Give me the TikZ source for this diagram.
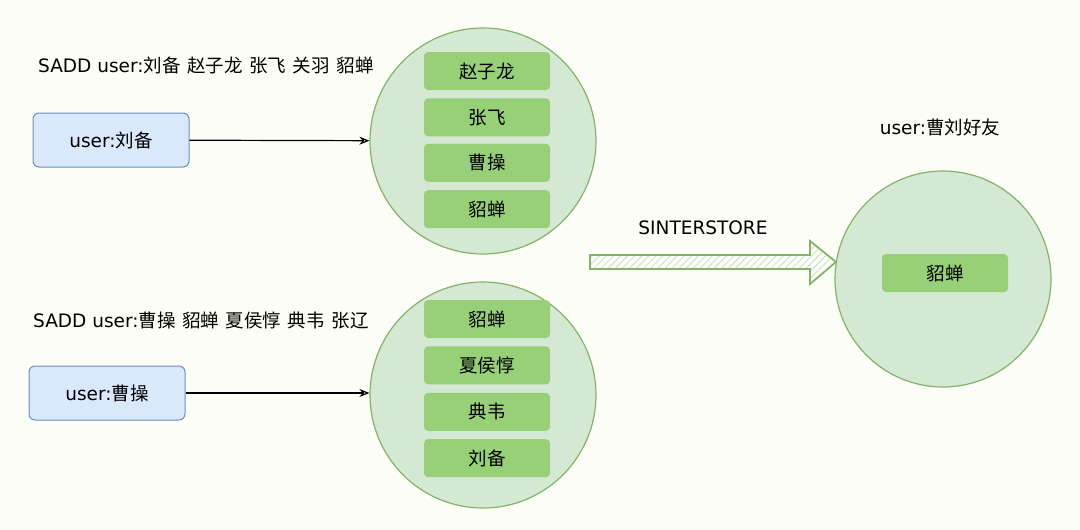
\documentclass[tikz,border=0pt]{standalone}
\usepackage{fontspec}
\usepackage{xcolor}
\usepackage{tikz}
\usetikzlibrary{positioning, arrows.meta, patterns.meta}
\newfontfamily\cjk[WordSpace=1.6]{Noto Sans CJK SC}
\newfontfamily\lat{DejaVu Sans}
\definecolor{paper}{HTML}{FDFDF8}
\definecolor{setgreen}{HTML}{D5E8D4}
\definecolor{setborder}{HTML}{82B366}
\definecolor{itemgreen}{HTML}{97D077}
\definecolor{keyblue}{HTML}{DAE8FC}
\definecolor{keyborder}{HTML}{6C8EBF}
\definecolor{hatch}{HTML}{C6DFC2}

\tikzset{
  txt/.style={font=\cjk\fontsize{18.5}{22}\selectfont, inner sep=0pt},
  keybox/.style={txt, fill=keyblue, draw=keyborder, line width=1pt,
                 rounded corners=6pt, minimum width=156pt, minimum height=54pt},
  setcircle/.style={circle, fill=setgreen, draw=setborder, line width=1.2pt,
                    minimum size=226pt},
  member/.style={txt, fill=itemgreen, rounded corners=4pt,
                 minimum width=126pt, minimum height=38pt},
  link/.style={-{Stealth[open, length=10pt, width=8pt]}, line width=1.2pt},
}

\begin{document}
\begin{tikzpicture}[x=1pt, y=-1pt]
  \fill[paper] (0,0) rectangle (1080,530);
  \useasboundingbox (0,0) rectangle (1080,530);

  % first set
  \node[txt, anchor=west] (cmd1) at (38,65) {{\lat SADD user:}刘备 赵子龙 张飞 关羽 貂蝉};
  \node[keybox] (k1) at (111,140) {{\lat user:}刘备};
  \node[setcircle] (s1) at (483,141) {};
  \node[member] (a1) at (487,71) {赵子龙};
  \node[member, below=8pt of a1] (a2) {张飞};
  \node[member, below=7pt of a2] (a3) {曹操};
  \node[member, below=8pt of a3] (a4) {貂蝉};
  \draw[link] (k1) -- (s1);

  % second set
  \node[txt, anchor=west] (cmd2) at (33,320) {{\lat SADD user:}曹操 貂蝉 夏侯惇 典韦 张辽};
  \node[keybox] (k2) at (107,393) {{\lat user:}曹操};
  \node[setcircle] (s2) at (483,395) {};
  \node[member] (b1) at (487,319) {貂蝉};
  \node[member, below=8pt of b1] (b2) {夏侯惇};
  \node[member, below=8pt of b2] (b3) {典韦};
  \node[member, below=8pt of b3] (b4) {刘备};
  \draw[link] (k2) -- (k2 -| s2.west);

  % result
  \node[txt] (res) at (940,127) {{\lat user:}曹刘好友};
  \node[setcircle, minimum size=216pt] (s3) at (943,279) {};
  \node[member] (c1) at (945,273) {貂蝉};

  \node[txt] (op) at (703,228) {\lat SINTERSTORE};
  \draw[setborder, line width=1.8pt, fill=paper]
    (590,255) -- (810,255) -- (810,241) -- (836,262) -- (810,284)
    -- (810,269) -- (590,269) -- cycle;
  \fill[pattern={Lines[angle=45, distance=5pt, line width=0.8pt]}, pattern color=hatch]
    (591,256) -- (811,256) -- (811,243) -- (834,262) -- (811,282)
    -- (811,268) -- (591,268) -- cycle;
\end{tikzpicture}
\end{document}
